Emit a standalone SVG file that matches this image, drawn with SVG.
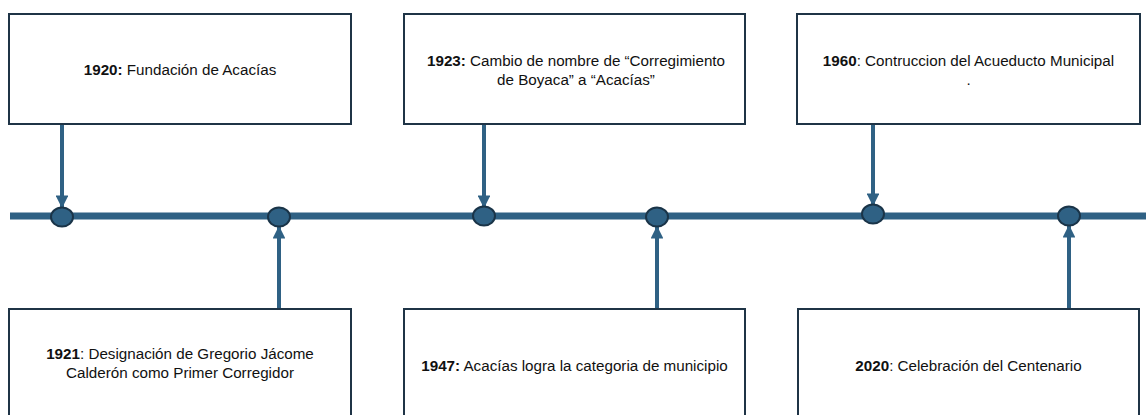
<svg xmlns="http://www.w3.org/2000/svg" width="1146" height="415" viewBox="0 0 1146 415">
<style>
.box{fill:#fff;stroke:#1f3446;stroke-width:2}
.t{font-family:"Liberation Sans",Arial,sans-serif;font-size:15.2px;fill:#111;text-anchor:middle}
.b{font-weight:bold}
.ax{stroke:#2f6184;stroke-width:4;fill:none}
.dot{fill:#2f6184;stroke:#1a3448;stroke-width:2}
</style>
<defs>
<marker id="ah" viewBox="0 0 10 10" refX="9" refY="5" markerWidth="3.2" markerHeight="3.2" orient="auto" markerUnits="strokeWidth">
<path d="M0,0 L10,5 L0,10 z" fill="#2f6184"/>
</marker>
</defs>
<g id="connectors">
<line x1="10" y1="216" x2="1146" y2="216" stroke="#2f6184" stroke-width="7"/>
<line class="ax" x1="62" y1="124" x2="62" y2="207" marker-end="url(#ah)"/>
<line class="ax" x1="484" y1="124" x2="484" y2="207" marker-end="url(#ah)"/>
<line class="ax" x1="873" y1="124" x2="873" y2="205" marker-end="url(#ah)"/>
<line class="ax" x1="279" y1="308" x2="279" y2="227" marker-end="url(#ah)"/>
<line class="ax" x1="657" y1="308" x2="657" y2="227" marker-end="url(#ah)"/>
<line class="ax" x1="1069" y1="308" x2="1069" y2="226" marker-end="url(#ah)"/>
</g>
<g id="dots">
<ellipse class="dot" cx="62" cy="217" rx="11" ry="9.5"/>
<ellipse class="dot" cx="279" cy="217" rx="11" ry="9.5"/>
<ellipse class="dot" cx="484" cy="216" rx="11" ry="9.5"/>
<ellipse class="dot" cx="657" cy="217" rx="11" ry="9.5"/>
<ellipse class="dot" cx="873" cy="214" rx="11" ry="9.5"/>
<ellipse class="dot" cx="1069" cy="216" rx="11" ry="9.5"/>
</g>
<g id="n1920">
<rect class="box" x="9" y="14" width="342" height="110"/>
<text class="t" x="180" y="75"><tspan class="b">1920:</tspan> Fundación de Acacías</text>
</g>
<g id="n1923">
<rect class="box" x="404" y="14" width="341" height="110"/>
<text class="t" x="576" y="66"><tspan class="b">1923:</tspan> Cambio de nombre de “Corregimiento</text>
<text class="t" x="576" y="85">de Boyaca” a “Acacías”</text>
</g>
<g id="n1960">
<rect class="box" x="797" y="14" width="343" height="110"/>
<text class="t" x="968.5" y="66"><tspan class="b">1960</tspan>: Contruccion del Acueducto Municipal</text>
<text class="t" x="968.5" y="85">.</text>
</g>
<g id="n1921">
<rect class="box" x="9" y="309" width="342" height="120"/>
<text class="t" x="180" y="359"><tspan class="b">1921</tspan>: Designación de Gregorio Jácome</text>
<text class="t" x="180" y="378">Calderón como Primer Corregidor</text>
</g>
<g id="n1947">
<rect class="box" x="404" y="309" width="341" height="120"/>
<text class="t" x="574.5" y="371"><tspan class="b">1947:</tspan> Acacías logra la categoria de municipio</text>
</g>
<g id="n2020">
<rect class="box" x="798" y="309" width="341" height="120"/>
<text class="t" x="968.5" y="371"><tspan class="b">2020</tspan>: Celebración del Centenario</text>
</g>
</svg>
